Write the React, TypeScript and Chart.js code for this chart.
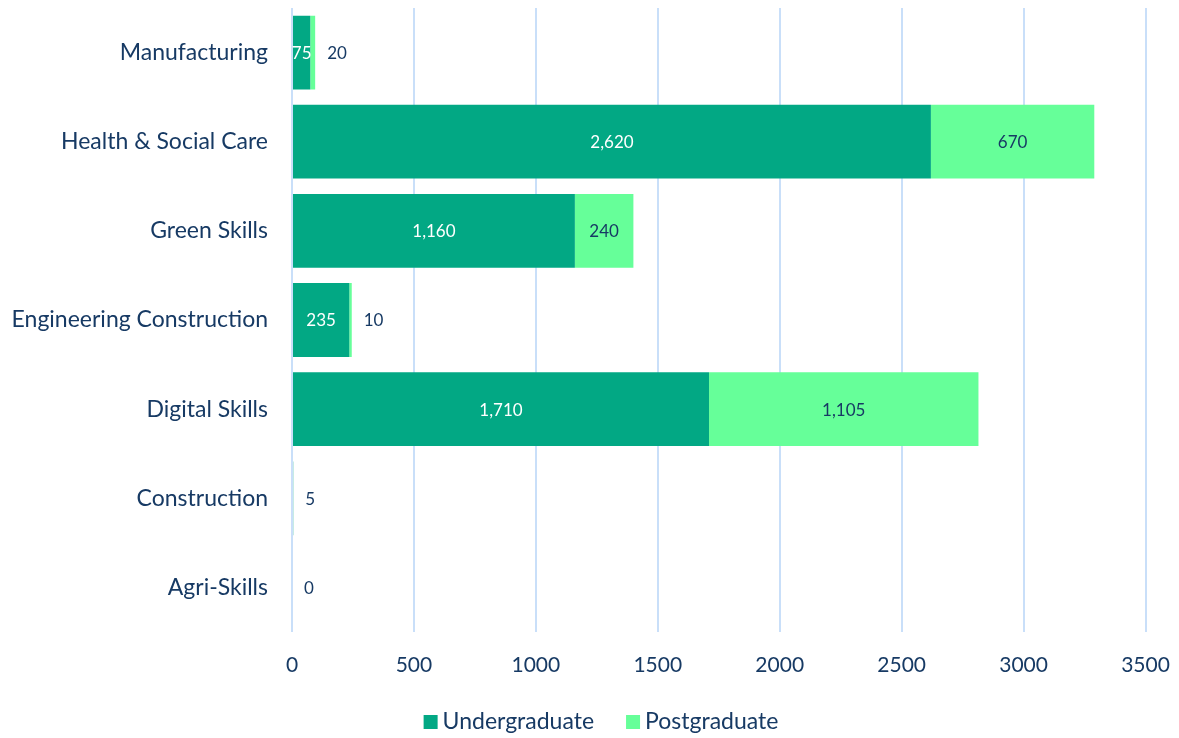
import React, { useEffect, useRef } from "react";
import { Chart, registerables } from "chart.js";

Chart.register(...registerables);

const categories = [
  "Manufacturing",
  "Health & Social Care",
  "Green Skills",
  "Engineering Construction",
  "Digital Skills",
  "Construction",
  "Agri-Skills",
];
const undergraduate: (number | null)[] = [75, 2620, 1160, 235, 1710, 5, 0];
const postgraduate: (number | null)[] = [20, 670, 240, 10, 1105, null, null];
const xTicks = [0, 500, 1000, 1500, 2000, 2500, 3000, 3500];
const seriesNames = ["Undergraduate", "Postgraduate"];

const FONT = "Lato, 'Noto Sans', sans-serif";
const NAVY = "#173a64";
const UG_COLOR = "#02a884";
const PG_COLOR = "#66ff99";
const COLORS = [UG_COLOR, PG_COLOR];

const W = 1163;
const H = 730;

const labelPlugin = {
  id: "barLabels",
  afterDatasetsDraw(chart: any) {
    const ctx = chart.ctx;
    ctx.save();
    ctx.font = `17px ${FONT}`;
    ctx.textBaseline = "middle";
    chart.data.datasets.forEach((ds: any, di: number) => {
      const meta = chart.getDatasetMeta(di);
      meta.data.forEach((bar: any, i: number) => {
        const v = ds.data[i];
        if (v === null || v === undefined) return;
        const text = v.toLocaleString("en-US");
        const left = Math.min(bar.x, bar.base);
        const right = Math.max(bar.x, bar.base);
        const w = right - left;
        if (w >= 10) {
          ctx.textAlign = "center";
          ctx.fillStyle = di === 0 ? "#ffffff" : NAVY;
          ctx.fillText(text, (left + right) / 2, bar.y + 1);
        } else {
          ctx.textAlign = "left";
          ctx.fillStyle = NAVY;
          ctx.fillText(text, right + 12, bar.y + 1);
        }
      });
    });
    ctx.restore();
  },
};

const legendPlugin = {
  id: "customLegend",
  afterDraw(chart: any) {
    const ctx = chart.ctx;
    ctx.save();
    ctx.font = `23px ${FONT}`;
    ctx.textBaseline = "middle";
    ctx.textAlign = "left";
    const box = 14;
    const gapText = 5;
    const gapItem = 32;
    const widths = seriesNames.map((n) => box + gapText + ctx.measureText(n).width);
    const total = widths.reduce((a, b) => a + b, 0) + gapItem * (seriesNames.length - 1);
    const cx = 593;
    let x = cx - total / 2;
    const y = 714;
    seriesNames.forEach((n, i) => {
      ctx.fillStyle = COLORS[i];
      ctx.fillRect(x, y - box / 2, box, box);
      ctx.fillStyle = NAVY;
      ctx.fillText(n, x + box + gapText, y);
      x += widths[i] + gapItem;
    });
    ctx.restore();
  },
};

export default function App() {
  const ref = useRef<HTMLCanvasElement>(null);
  useEffect(() => {
    if (!ref.current) return;
    const prevMargin = document.body.style.marginBottom;
    document.body.style.marginBottom = "0px";
    const chart = new Chart(ref.current, {
      type: "bar",
      data: {
        labels: categories,
        datasets: [
          {
            label: seriesNames[0],
            data: undergraduate,
            backgroundColor: UG_COLOR,
            borderWidth: 0,
            barPercentage: 0.92,
            categoryPercentage: 0.9,
          },
          {
            label: seriesNames[1],
            data: postgraduate,
            backgroundColor: PG_COLOR,
            borderWidth: 0,
            barPercentage: 0.92,
            categoryPercentage: 0.9,
          },
        ],
      },
      options: {
        indexAxis: "y",
        animation: false,
        responsive: false,
        layout: { autoPadding: false, padding: { top: 0, right: 25.5, left: 0, bottom: 61 } },
        scales: {
          x: {
            stacked: true,
            min: 0,
            max: 3500,
            afterBuildTicks: (axis: any) => {
              axis.ticks = xTicks.map((v) => ({ value: v }));
            },
            afterFit: (axis: any) => {
              axis.paddingLeft = 0;
              axis.paddingRight = 0;
              axis.height = 45;
            },
            grid: { color: "#c9dff9", lineWidth: 2, drawTicks: false },
            border: { display: false },
            ticks: {
              color: NAVY,
              font: { family: FONT, size: 21 },
              padding: 21,
              maxRotation: 0,
              callback: (v: any) => String(v),
            },
          },
          y: {
            stacked: true,
            afterFit: (axis: any) => {
              axis.width = 284;
              axis.paddingTop = 0;
              axis.paddingBottom = 0;
            },
            grid: { display: false, drawTicks: false },
            border: { display: false },
            ticks: {
              color: NAVY,
              font: { family: FONT, size: 23 },
              padding: 24,
            },
          },
        },
        plugins: {
          legend: { display: false },
          tooltip: { enabled: false },
        },
      },
      plugins: [labelPlugin, legendPlugin],
    });
    return () => {
      chart.destroy();
      document.body.style.marginBottom = prevMargin;
    };
  }, []);
  return (
    <canvas
      ref={ref}
      width={W}
      height={H}
      style={{ display: "block", width: W, height: H }}
    />
  );
}
